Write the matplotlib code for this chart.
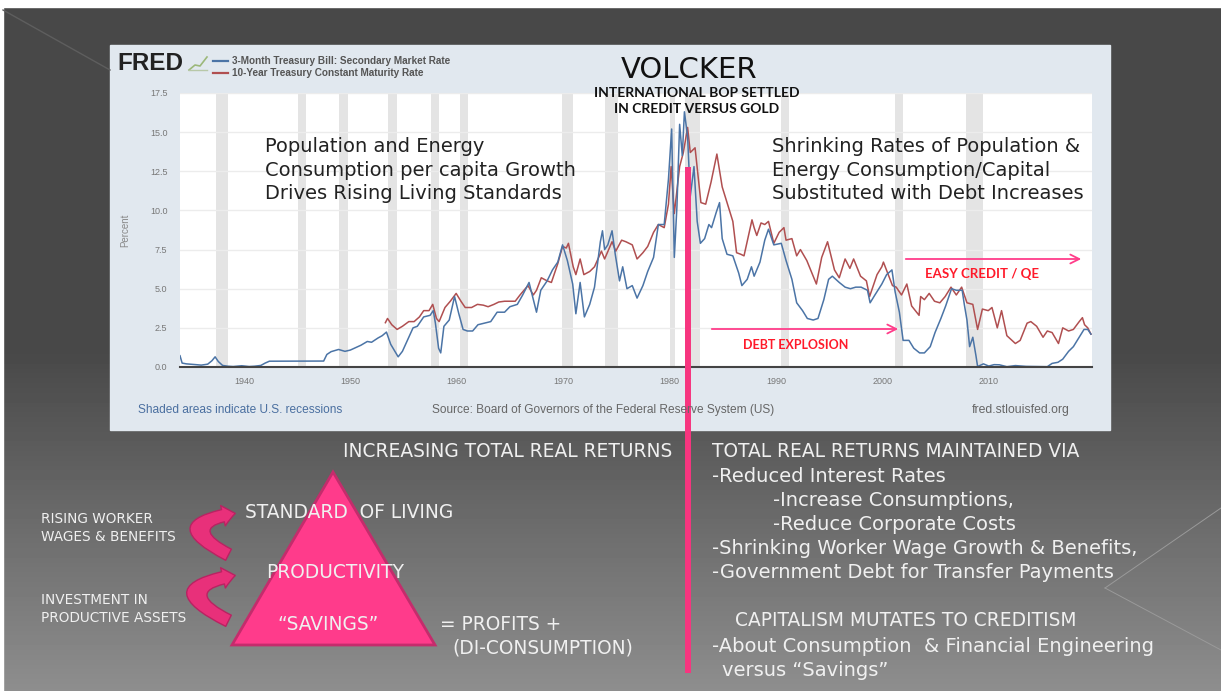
import matplotlib.pyplot as plt
import numpy as np
from matplotlib.patches import Rectangle, Polygon, FancyArrowPatch

# ---- data ----
tb3_years = [1934.0, 1934.2, 1934.6, 1935.0, 1935.5, 1936.0, 1936.6, 1937.0, 1937.3, 1937.6,
             1938.0, 1938.5, 1939.0, 1939.8, 1940.5, 1941.0, 1941.6, 1942.0, 1942.4, 1947.5,
             1947.8, 1948.2, 1948.9, 1949.5, 1950.0, 1950.7, 1951.0, 1951.6, 1952.0, 1952.6,
             1953.0, 1953.4, 1953.8, 1954.2, 1954.5, 1954.9, 1955.3, 1955.9, 1956.3, 1956.9,
             1957.5, 1957.8, 1958.0, 1958.3, 1958.5, 1958.8, 1959.3, 1959.8, 1960.2, 1960.6,
             1961.0, 1961.5, 1962.0, 1962.6, 1963.2, 1963.8, 1964.5, 1965.0, 1965.7, 1966.2,
             1966.8, 1967.2, 1967.5, 1967.9, 1968.5, 1969.0, 1969.5, 1969.95, 1970.4, 1970.9,
             1971.2, 1971.6, 1972.0, 1972.5, 1972.95, 1973.5, 1973.7, 1973.9, 1974.2, 1974.6,
             1974.9, 1975.3, 1975.6, 1976.0, 1976.5, 1976.95, 1977.5, 1977.95, 1978.5, 1978.95,
             1979.5, 1979.9, 1980.2, 1980.45, 1980.7, 1980.95, 1981.2, 1981.4, 1981.7, 1981.95,
             1982.3, 1982.6, 1982.9, 1983.3, 1983.7, 1983.95, 1984.4, 1984.7, 1984.95, 1985.4,
             1985.95, 1986.5, 1986.8, 1987.3, 1987.7, 1987.95, 1988.5, 1988.95, 1989.3, 1989.8,
             1990.5, 1990.95, 1991.5, 1991.95, 1992.5, 1992.95, 1993.5, 1993.95, 1994.5, 1994.95,
             1995.3, 1995.95, 1996.5, 1997.0, 1997.5, 1998.0, 1998.6, 1998.85, 1999.3, 1999.95,
             2000.4, 2000.9, 2001.2, 2001.6, 2001.95, 2002.5, 2002.95, 2003.5, 2003.95, 2004.5,
             2004.95, 2005.5, 2005.95, 2006.5, 2006.95, 2007.5, 2007.7, 2007.95, 2008.2, 2008.5,
             2008.8, 2008.95, 2009.5, 2010.0, 2010.5, 2011.0, 2011.7, 2012.5, 2013.5, 2014.5,
             2015.5, 2015.95, 2016.5, 2016.95, 2017.5, 2017.95, 2018.5, 2018.95, 2019.3, 2019.6]
tb3_rate = [0.72, 0.25, 0.20, 0.18, 0.15, 0.12, 0.18, 0.40, 0.65, 0.35,
            0.10, 0.05, 0.03, 0.08, 0.03, 0.05, 0.10, 0.25, 0.37, 0.38,
            0.80, 0.98, 1.12, 1.00, 1.08, 1.30, 1.39, 1.63, 1.58, 1.85,
            2.00, 2.23, 1.45, 1.00, 0.65, 1.00, 1.60, 2.50, 2.60, 3.20,
            3.30, 3.60, 2.80, 1.20, 0.90, 2.60, 3.00, 4.50, 3.40, 2.40,
            2.30, 2.30, 2.70, 2.80, 2.90, 3.50, 3.50, 3.85, 4.00, 4.60,
            5.40, 4.30, 3.50, 4.90, 5.50, 6.20, 6.70, 7.80, 6.80, 5.30,
            3.40, 5.40, 3.20, 4.00, 5.10, 8.00, 8.70, 7.50, 7.80, 8.70,
            7.20, 5.50, 6.40, 5.00, 5.20, 4.40, 5.20, 6.10, 7.00, 9.10,
            9.10, 12.00, 15.20, 7.00, 10.30, 15.50, 13.50, 16.30, 14.70, 10.90,
            12.80, 9.30, 7.90, 8.20, 9.10, 8.90, 9.90, 10.50, 8.20, 7.20,
            7.10, 6.00, 5.20, 5.60, 6.40, 5.80, 6.70, 8.10, 8.80, 7.80,
            7.90, 6.80, 5.60, 4.10, 3.60, 3.10, 3.00, 3.10, 4.30, 5.60,
            5.80, 5.40, 5.10, 5.00, 5.10, 5.10, 4.90, 4.10, 4.60, 5.30,
            5.90, 6.20, 4.80, 3.50, 1.70, 1.70, 1.20, 0.90, 0.90, 1.30,
            2.20, 3.10, 3.90, 5.00, 4.90, 4.90, 4.00, 3.00, 1.30, 1.90,
            0.70, 0.03, 0.20, 0.06, 0.15, 0.14, 0.02, 0.09, 0.04, 0.03,
            0.02, 0.23, 0.30, 0.50, 1.00, 1.30, 1.90, 2.40, 2.40, 2.10]

gs10_years = [1953.3, 1953.5, 1953.9, 1954.4, 1954.9, 1955.5, 1956.0, 1956.5, 1956.9, 1957.4,
              1957.75, 1958.1, 1958.35, 1958.9, 1959.4, 1959.95, 1960.4, 1960.8, 1961.4, 1961.95,
              1962.5, 1962.95, 1963.5, 1963.95, 1964.5, 1964.95, 1965.5, 1965.95, 1966.7, 1967.2,
              1967.5, 1967.95, 1968.5, 1968.9, 1969.5, 1969.95, 1970.3, 1970.5, 1970.95, 1971.2,
              1971.6, 1971.95, 1972.5, 1972.95, 1973.6, 1973.9, 1974.6, 1974.95, 1975.5, 1975.9,
              1976.5, 1976.95, 1977.5, 1977.95, 1978.5, 1978.95, 1979.5, 1979.9, 1980.15, 1980.45,
              1980.95, 1981.3, 1981.7, 1981.95, 1982.4, 1982.95, 1983.4, 1983.9, 1984.45, 1984.95,
              1985.5, 1985.95, 1986.3, 1986.7, 1987.0, 1987.75, 1987.95, 1988.2, 1988.6, 1988.95,
              1989.3, 1989.8, 1990.3, 1990.75, 1990.95, 1991.5, 1991.95, 1992.3, 1992.9, 1993.5,
              1993.8, 1994.3, 1994.85, 1995.5, 1995.95, 1996.5, 1996.95, 1997.3, 1997.95, 1998.5,
              1998.8, 1999.5, 1999.95, 2000.1, 2000.5, 2000.95, 2001.3, 2001.8, 2002.3, 2002.75,
              2003.45, 2003.6, 2003.95, 2004.4, 2004.9, 2005.4, 2005.9, 2006.45, 2006.95, 2007.45,
              2007.95, 2008.5, 2008.95, 2009.4, 2009.95, 2010.3, 2010.8, 2011.2, 2011.7, 2012.5,
              2012.95, 2013.6, 2013.95, 2014.5, 2015.1, 2015.5, 2015.95, 2016.55, 2016.95, 2017.5,
              2017.95, 2018.5, 2018.8, 2019.0, 2019.3, 2019.6]
gs10_rate = [2.83, 3.10, 2.70, 2.40, 2.60, 2.90, 2.90, 3.20, 3.60, 3.60,
             4.00, 3.10, 2.90, 3.80, 4.20, 4.70, 4.20, 3.80, 3.80, 4.00,
             3.95, 3.85, 4.00, 4.15, 4.20, 4.20, 4.20, 4.60, 5.20, 4.60,
             4.90, 5.70, 5.50, 5.40, 6.60, 7.70, 7.60, 7.90, 6.40, 5.90,
             6.90, 5.90, 6.10, 6.40, 7.40, 6.90, 8.00, 7.40, 8.10, 8.00,
             7.80, 6.90, 7.30, 7.70, 8.60, 9.10, 8.90, 10.40, 12.80, 9.80,
             12.80, 13.70, 15.30, 13.70, 14.00, 10.50, 10.40, 11.80, 13.60, 11.50,
             10.30, 9.30, 7.30, 7.20, 7.10, 9.40, 8.90, 8.40, 9.20, 9.10,
             9.30, 7.90, 8.60, 8.90, 8.10, 8.20, 7.10, 7.50, 6.80, 5.80,
             5.30, 7.00, 8.00, 6.20, 5.70, 6.90, 6.30, 6.90, 5.80, 5.50,
             4.50, 5.90, 6.40, 6.70, 6.00, 5.20, 5.10, 4.60, 5.30, 3.90,
             3.30, 4.50, 4.30, 4.70, 4.20, 4.10, 4.50, 5.10, 4.60, 5.10,
             4.10, 4.00, 2.40, 3.70, 3.60, 3.80, 2.50, 3.60, 2.00, 1.50,
             1.70, 2.80, 2.90, 2.60, 1.90, 2.30, 2.20, 1.50, 2.50, 2.30,
             2.40, 2.90, 3.15, 2.70, 2.50, 2.10]

recessions = [(1937.4, 1938.5), (1945.1, 1945.8), (1948.9, 1949.8), (1953.5, 1954.4),
              (1957.6, 1958.3), (1960.3, 1961.1), (1969.9, 1970.9), (1973.9, 1975.2),
              (1980.0, 1980.5), (1981.5, 1982.9), (1990.5, 1991.2), (2001.2, 2001.9),
              (2007.9, 2009.5)]

y_ticks = [0.0, 2.5, 5.0, 7.5, 10.0, 12.5, 15.0, 17.5]
x_ticks = [1940, 1950, 1960, 1970, 1980, 1990, 2000, 2010]

W, H = 1221, 691
PINK = '#f7357f'
WHITE = '#f0f0f0'
SLIDE_FONT = 'DejaVu Sans'
BOLD_FONT = 'Lato'
FRED_FONT = 'Liberation Sans'

fig = plt.figure(figsize=(W / 100, H / 100), dpi=100)


def box(x0, y0, x1, y1):
    return [x0 / W, 1 - y1 / H, (x1 - x0) / W, (y1 - y0) / H]


# slide background
bg = fig.add_axes([0, 0, 1, 1], zorder=0)
rows = np.arange(H)
shade = np.where(rows < 350, 72, 72 + 70 * (rows - 350) / (H - 350)) / 255
bg.imshow(np.repeat(shade[:, None], 2, axis=1), cmap='gray', vmin=0, vmax=1,
          aspect='auto', extent=(0, W, H, 0))
bg.set_xlim(0, W)
bg.set_ylim(H, 0)
bg.axis('off')
bg.add_patch(Rectangle((0, 0), W, 7, color='white'))
bg.add_patch(Rectangle((0, 0), 3, H, color='white'))
bg.plot([3, 110], [10, 70], color='#5e5e5e', lw=1)
bg.plot([1221, 1105], [508, 588], color='#9a9a9a', lw=0.7)
bg.plot([1105, 1221], [588, 650], color='#9a9a9a', lw=0.7)
bg.add_patch(Rectangle((110, 45), 1000, 385, color='#e1e8ef'))

# FRED chart
ax = fig.add_axes(box(180, 93, 1092, 367), zorder=2)
ax.set_facecolor('white')
for a, b in recessions:
    ax.axvspan(a, b, color='#e4e4e4', lw=0)
for v in y_ticks[1:]:
    ax.axhline(v, color='#ececec', lw=1)
ax.plot(gs10_years, gs10_rate, color='#b04f50', lw=1.1)
ax.plot(tb3_years, tb3_rate, color='#4b74a6', lw=1.1)
ax.set_xlim(1934.0, 2019.7)
ax.set_ylim(0, 17.5)
ax.set_yticks(y_ticks)
ax.set_yticklabels([f'{v:.1f}' for v in y_ticks], family=FRED_FONT)
ax.set_xticks(x_ticks)
ax.set_xticklabels([str(v) for v in x_ticks], family=FRED_FONT)
for s in ['top', 'right', 'left']:
    ax.spines[s].set_visible(False)
ax.spines['bottom'].set_color('#444444')
ax.spines['bottom'].set_linewidth(1.5)
ax.tick_params(axis='y', length=0, labelsize=6.5, labelcolor='#777777', pad=9)
ax.tick_params(axis='x', length=0, labelsize=6.5, labelcolor='#777777', pad=7)
ax.set_ylabel('Percent', fontsize=7, color='#888888', labelpad=14, family=FRED_FONT)

# overlay for slide texts
ov = fig.add_axes([0, 0, 1, 1], zorder=3)
ov.set_xlim(0, W)
ov.set_ylim(H, 0)
ov.axis('off')
ov.patch.set_alpha(0)

ov.text(117, 63, 'FRED', fontsize=17.5, fontweight='bold', color='#222222',
        va='center', family=FRED_FONT)
ov.plot([189, 195, 200, 207], [70, 65, 66, 57], color='#9cb87a', lw=1.2)
ov.plot([189, 207], [70, 70], color='#b8c8a8', lw=1)
ov.plot([213, 228], [61, 61], color='#4b74a6', lw=1.6)
ov.plot([213, 228], [73, 73], color='#b04f50', lw=1.6)
ov.text(232, 61, '3-Month Treasury Bill: Secondary Market Rate', fontsize=7.2,
        fontweight='bold', color='#555555', va='center', family=FRED_FONT)
ov.text(232, 73, '10-Year Treasury Constant Maturity Rate', fontsize=7.2,
        fontweight='bold', color='#555555', va='center', family=FRED_FONT)
ov.text(138, 410, 'Shaded areas indicate U.S. recessions', fontsize=8.6,
        color='#4a6fa0', va='center', family=FRED_FONT)
ov.text(432, 410, 'Source: Board of Governors of the Federal Reserve System (US)',
        fontsize=8.6, color='#666666', va='center', family=FRED_FONT)
ov.text(972, 410, 'fred.stlouisfed.org', fontsize=8.8, color='#666666',
        va='center', family=FRED_FONT)

ov.text(689, 70, 'VOLCKER', fontsize=21, color='#111111', ha='center', va='center',
        family=SLIDE_FONT)
ov.text(697, 101, 'INTERNATIONAL BOP SETTLED\nIN CREDIT VERSUS GOLD', fontsize=10,
        fontweight='bold', color='#111111', ha='center', va='center',
        linespacing=1.4, family=BOLD_FONT)
ov.text(265, 170, 'Population and Energy\nConsumption per capita Growth\nDrives Rising Living Standards',
        fontsize=14, color='#222222', va='center', linespacing=1.3, family=SLIDE_FONT)
ov.text(772, 170, 'Shrinking Rates of Population &\nEnergy Consumption/Capital\nSubstituted with Debt Increases',
        fontsize=14, color='#222222', va='center', linespacing=1.3, family=SLIDE_FONT)

arrow_kw = dict(arrowstyle='->', color='#ff3d8a', lw=1.3, mutation_scale=16)
ov.annotate('', xy=(1084, 259), xytext=(903, 259), arrowprops=arrow_kw)
ov.annotate('', xy=(901, 329), xytext=(709, 329), arrowprops=arrow_kw)
ov.text(925, 274, 'EASY CREDIT / QE', fontsize=9.5, fontweight='bold', color='#ff1a2a',
        va='center', family=BOLD_FONT)
ov.text(743, 345, 'DEBT EXPLOSION', fontsize=9, fontweight='bold', color='#ff1a2a',
        va='center', family=BOLD_FONT)

ov.plot([688, 688], [167, 673], color=PINK, lw=4.3, solid_capstyle='butt')

# lower half of the slide
CAPS, MIXED = 13.4, 14.0
ov.text(672, 451, 'INCREASING TOTAL REAL RETURNS', fontsize=CAPS, color=WHITE,
        ha='right', va='center', family=SLIDE_FONT)
right_lines = [(712, 451, 'TOTAL REAL RETURNS MAINTAINED VIA', CAPS),
               (712, 476, '-Reduced Interest Rates', MIXED),
               (773, 500, '-Increase Consumptions,', MIXED),
               (773, 524, '-Reduce Corporate Costs', MIXED),
               (712, 549, '-Shrinking Worker Wage Growth & Benefits,', MIXED),
               (712, 573, '-Government Debt for Transfer Payments', MIXED),
               (735, 621, 'CAPITALISM MUTATES TO CREDITISM', CAPS),
               (712, 646, '-About Consumption  & Financial Engineering', MIXED),
               (722, 670, 'versus \u201cSavings\u201d', MIXED)]
for x, y, t, fs in right_lines:
    ov.text(x, y, t, fontsize=fs, color=WHITE, va='center', family=SLIDE_FONT)

ov.add_patch(Polygon([(333, 472), (232, 645), (435, 645)], closed=True,
                     facecolor='#ff3b8b', edgecolor='#c42c6c', lw=2))
ov.text(245, 512, 'STANDARD  OF LIVING', fontsize=CAPS, color=WHITE, va='center',
        family=SLIDE_FONT)
ov.text(335, 572, 'PRODUCTIVITY', fontsize=CAPS, color=WHITE, va='center', ha='center',
        family=SLIDE_FONT)
ov.text(328, 625, '\u201cSAVINGS\u201d', fontsize=CAPS, color=WHITE, va='center',
        ha='center', family=SLIDE_FONT)
ov.text(440, 625, '= PROFITS +', fontsize=CAPS, color=WHITE, va='center',
        family=SLIDE_FONT)
ov.text(452, 648, '(DI-CONSUMPTION)', fontsize=CAPS, color=WHITE, va='center',
        family=SLIDE_FONT)
ov.text(41, 528, 'RISING WORKER\nWAGES & BENEFITS', fontsize=9.8, color=WHITE,
        va='center', linespacing=1.45, family=SLIDE_FONT)
ov.text(41, 609, 'INVESTMENT IN\nPRODUCTIVE ASSETS', fontsize=9.8, color=WHITE,
        va='center', linespacing=1.45, family=SLIDE_FONT)

for y0, y1 in [(556, 513), (622, 575)]:
    ov.add_patch(FancyArrowPatch((231, y0), (238, y1),
                                 connectionstyle='arc3,rad=-1.6',
                                 arrowstyle='simple,head_width=1.5,head_length=0.9,tail_width=0.9',
                                 mutation_scale=10, facecolor='#e8307a',
                                 edgecolor='#b82362', lw=1))

fig.savefig('out.png', dpi=100)
